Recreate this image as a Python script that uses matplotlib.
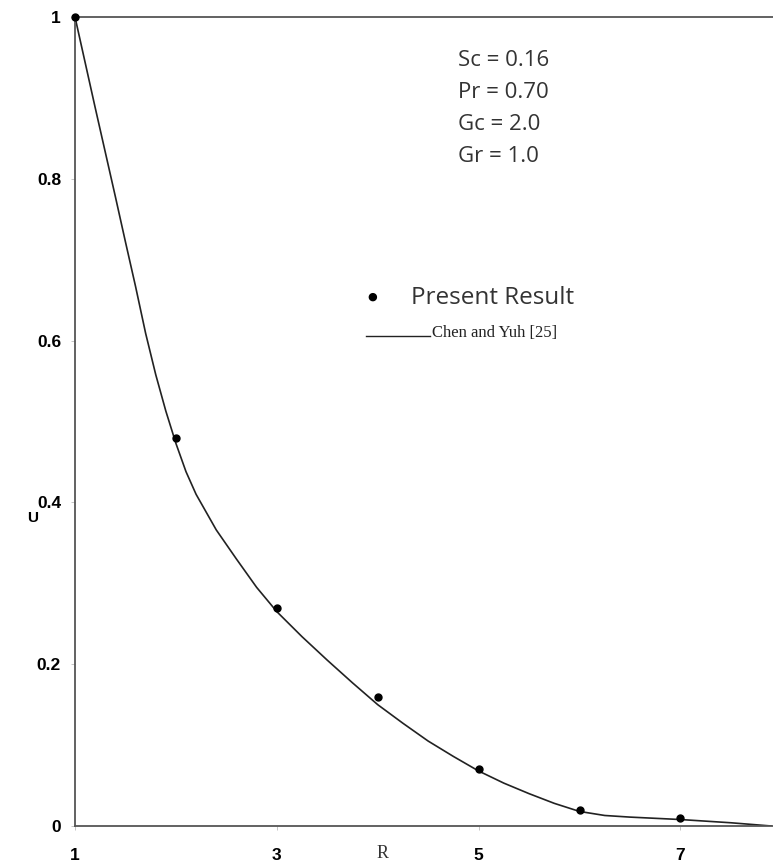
import matplotlib.pyplot as plt

# Velocity profile U against R
r_curve = [1.0, 1.2, 1.4, 1.5, 1.6, 1.7, 1.8, 1.9, 2.0, 2.1, 2.2, 2.4, 2.6, 2.8, 3.0,
           3.25, 3.5, 3.75, 4.0, 4.25, 4.5, 4.75, 5.0, 5.25, 5.5, 5.75, 6.0,
           6.25, 6.5, 7.0, 7.5, 7.9]
u_curve = [1.0, 0.888, 0.778, 0.722, 0.667, 0.609, 0.558, 0.513, 0.473, 0.438, 0.41,
           0.366, 0.33, 0.295, 0.265, 0.234, 0.205, 0.177, 0.15, 0.127, 0.105,
           0.086, 0.068, 0.053, 0.04, 0.028, 0.018, 0.013, 0.011, 0.008, 0.004, 0.0]

r_present = [1, 2, 3, 4, 5, 6, 7]
u_present = [1.0, 0.48, 0.27, 0.16, 0.07, 0.02, 0.01]

y_ticks = [0, 0.2, 0.4, 0.6, 0.8, 1]
y_labels = ['0', '0.2', '0.4', '0.6', '0.8', '1']
x_ticks = [1, 3, 5, 7]
x_labels = ['1', '3', '5', '7']
params = ['Sc = 0.16', 'Pr = 0.70', 'Gc = 2.0', 'Gr = 1.0']

W, H = 773, 865
fig = plt.figure(figsize=(W / 100, H / 100), dpi=100)
ax = fig.add_axes([75 / W, (H - 826) / H, (W - 75) / W, 809 / H])

ax.plot(r_curve, u_curve, color='#222222', lw=1.2, zorder=2)
ax.plot(r_present, u_present, 'o', color='black', ms=5, zorder=3, clip_on=False)

ax.set_xlim(1, 1 + (W - 75) / 100.9)
ax.set_ylim(0, 1)

for side in ['left', 'bottom', 'top']:
    ax.spines[side].set_color('#555555')
    ax.spines[side].set_linewidth(1.3)
ax.spines['right'].set_visible(False)

ax.set_yticks(y_ticks)
ax.set_yticklabels(y_labels, fontweight='bold', fontsize=12.5, family='Liberation Sans')
ax.set_xticks(x_ticks)
ax.set_xticklabels(x_labels, fontweight='bold', fontsize=12.5, family='Liberation Sans')
ax.tick_params(axis='both', length=3, width=0.6, color='#bbbbbb')
ax.tick_params(axis='y', pad=7)
ax.tick_params(axis='x', pad=13)

ax.text(4.05, -0.034, 'R', ha='center', va='center', fontsize=13,
        family='Liberation Serif', color='#333333', clip_on=False)
fig.text(33 / W, 1 - 518 / H, 'U', ha='center', va='center', fontsize=11,
         fontweight='bold', family='Liberation Sans')

for i, s in enumerate(params):
    fig.text(458 / W, 1 - (60 + 32 * i) / H, s, ha='left', va='center',
             fontsize=16, color='#333333', family='Open Sans')

# Legend drawn by hand
fig.text(372 / W, 1 - 297 / H, '\u25CF', ha='center', va='center', fontsize=8, color='black')
fig.text(411 / W, 1 - 298 / H, 'Present Result', ha='left', va='center',
         fontsize=17.5, color='#333333', family='Open Sans')
fig.add_artist(plt.Line2D([366 / W, 430 / W], [1 - 336 / H, 1 - 336 / H],
                          color='#222222', lw=1.0))
fig.text(432 / W, 1 - 333 / H, 'Chen and Yuh [25]', ha='left', va='center',
         fontsize=12, color='#222222', family='Liberation Serif')

fig.savefig('out.png', dpi=100)
